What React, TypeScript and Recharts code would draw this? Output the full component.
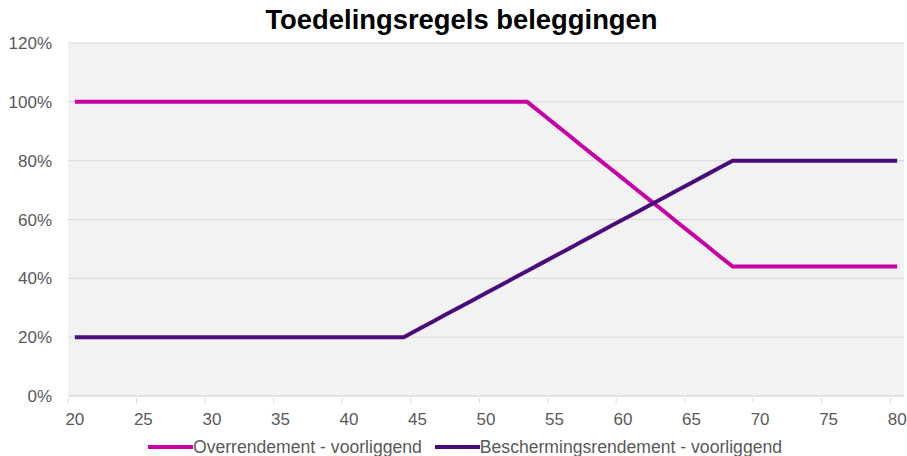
import { CartesianGrid, Legend, Line, LineChart, XAxis, YAxis } from "recharts";

const ages = [
  20, 21, 22, 23, 24, 25, 26, 27, 28, 29, 30, 31, 32, 33, 34, 35, 36, 37, 38, 39, 40,
  41, 42, 43, 44, 45, 46, 47, 48, 49, 50, 51, 52, 53, 54, 55, 56, 57, 58, 59, 60,
  61, 62, 63, 64, 65, 66, 67, 68, 69, 70, 71, 72, 73, 74, 75, 76, 77, 78, 79, 80,
];

// Overrendement - voorliggend (%)
const overrendement = [
  100, 100, 100, 100, 100, 100, 100, 100, 100, 100, 100, 100, 100, 100, 100, 100, 100, 100, 100, 100, 100,
  100, 100, 100, 100, 100, 100, 100, 100, 100, 100, 100, 100, 100, 96.3, 92.5, 88.8, 85, 81.3, 77.6, 73.9,
  70.1, 66.4, 62.7, 58.9, 55.2, 51.5, 47.7, 44, 44, 44, 44, 44, 44, 44, 44, 44, 44, 44, 44, 44,
];

// Beschermingsrendement - voorliggend (%)
const bescherming = [
  20, 20, 20, 20, 20, 20, 20, 20, 20, 20, 20, 20, 20, 20, 20, 20, 20, 20, 20, 20, 20,
  20, 20, 20, 20, 22.5, 25, 27.5, 30, 32.5, 35, 37.5, 40, 42.5, 45, 47.5, 50, 52.5, 55, 57.5, 60,
  62.5, 65, 67.5, 70, 72.5, 75, 77.5, 80, 80, 80, 80, 80, 80, 80, 80, 80, 80, 80, 80, 80,
];

const xTicks = [20, 25, 30, 35, 40, 45, 50, 55, 60, 65, 70, 75, 80];
const yTicks = [0, 20, 40, 60, 80, 100, 120];

const seriesNames = ["Overrendement - voorliggend", "Beschermingsrendement - voorliggend"];
const seriesColors = ["#c800a5", "#4b0c7b"];

const rows = ages.map((age, i) => ({
  age,
  over: overrendement[i],
  bes: bescherming[i],
}));

const FONT = "'Liberation Sans', Arial, sans-serif";
const W = 907;
const H = 456;
const LEFT = 68;
const RIGHT = 3;
const HALF = (W - LEFT - RIGHT) / ages.length / 2;

function XTick({ x, y, payload }: { x?: number; y?: number; payload?: { value: number } }) {
  const px = x ?? 0;
  const py = y ?? 0;
  return (
    <g>
      <line x1={px - HALF} x2={px - HALF} y1={py} y2={py + 5} stroke="#d9d9d9" />
      <text x={px} y={py + 21} dy="0.355em" textAnchor="middle" fill="#595959" fontSize={17} fontFamily={FONT}>
        {payload?.value}
      </text>
    </g>
  );
}

function LegendBox() {
  return (
    <div style={{ display: "flex", justifyContent: "center", paddingLeft: 23, fontFamily: FONT, fontSize: 17.6, color: "#595959", lineHeight: "18px" }}>
      {seriesNames.map((n, i) => (
        <div key={n} style={{ display: "flex", alignItems: "center", marginRight: i === 0 ? 13 : 0 }}>
          <span style={{ display: "inline-block", width: 45, height: 4, background: seriesColors[i] }} />
          <span>{n}</span>
        </div>
      ))}
    </div>
  );
}

export default function App() {
  return (
    <div style={{ position: "absolute", left: 0, top: 0, width: W, height: H, background: "#fff" }}>
      <div
        style={{
          position: "absolute",
          left: 0,
          width: W,
          top: 4,
          paddingLeft: 16,
          boxSizing: "border-box",
          textAlign: "center",
          fontFamily: FONT,
          fontWeight: "bold",
          fontSize: 27.4,
          color: "#000",
        }}
      >
        Toedelingsregels beleggingen
      </div>
      <LineChart width={W} height={H} data={rows} margin={{ top: 43, right: RIGHT, bottom: 12, left: 0 }}>
        <CartesianGrid vertical={false} stroke="#d9d9d9" fill="#f2f2f2" />
        <XAxis
          dataKey="age"
          type="number"
          domain={[19.5, 80.5]}
          ticks={xTicks}
          interval={0}
          tickSize={0}
          tickLine={false}
          stroke="#d9d9d9"
          tick={<XTick />}
        />
        <YAxis
          width={LEFT}
          domain={[0, 120]}
          ticks={yTicks}
          interval={0}
          axisLine={false}
          tickLine={false}
          tickSize={0}
          tickMargin={16}
          tickFormatter={(v: number) => `${v}%`}
          tick={{ fill: "#595959", fontSize: 17, fontFamily: FONT }}
        />
        <Legend verticalAlign="bottom" wrapperStyle={{ left: 0, width: W, bottom: 0 }} content={<LegendBox />} />
        <Line dataKey="over" name={seriesNames[0]} stroke={seriesColors[0]} strokeWidth={4} dot={false} isAnimationActive={false} />
        <Line dataKey="bes" name={seriesNames[1]} stroke={seriesColors[1]} strokeWidth={4} dot={false} isAnimationActive={false} />
      </LineChart>
    </div>
  );
}
